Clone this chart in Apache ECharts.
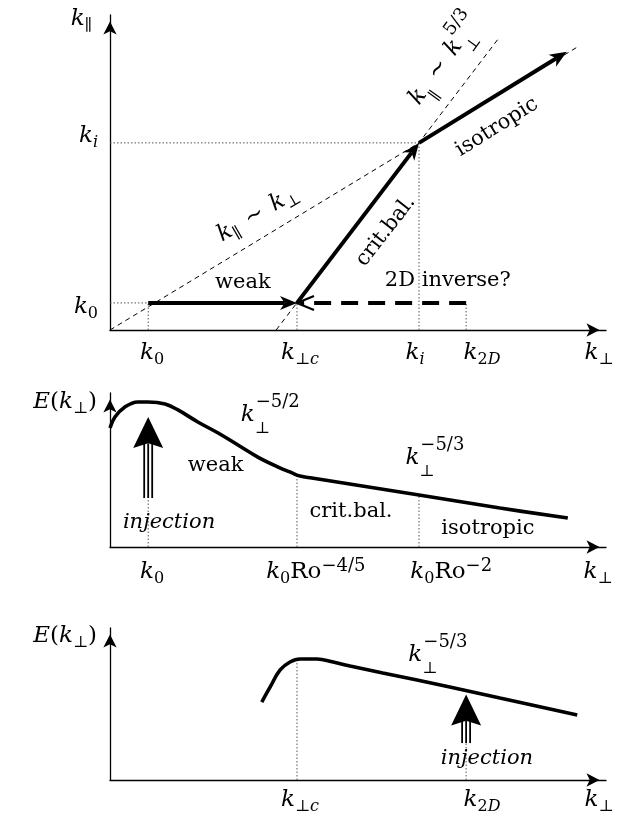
<!DOCTYPE html>
<html>
<head>
<meta charset="utf-8">
<script src="https://cdn.jsdelivr.net/npm/echarts@6/dist/echarts.min.js"></script>
<style>
  html, body { margin: 0; padding: 0; background: #fff; }
  #chart { width: 618px; height: 823px; }
</style>
</head>
<body>
<div id="chart"></div>
<script>
// 横轴统一为 0-100 的 (对数) k⊥ 单位，纵轴各面板 0-100
const perpTicks = [7.7, 37.7, 62.3, 71.8] // k0, k⊥c, ki, k2D
const parTicks = [8.6, 59.4]              // k0, ki (上图纵轴)
const [K0, KC, KI, K2D] = perpTicks
const [P0, PI] = parTicks

// 上图箭头: x1, y1, x2, y2, 是否虚线
const topArrows = [
  [K0, P0, KC, P0, 0],       // weak
  [KC, P0, KI, PI, 0],       // crit.bal.
  [KI, PI, 92.1, 88.3, 0],   // isotropic
  [K2D, P0, KC, P0, 1]       // 2D inverse?
]
const isoLine = [[0, 0], [94.4, 90.0]]       // k∥ ~ k⊥
const critLine = [[33.5, 0], [78.4, 92.7]]   // k∥ ~ k⊥^(5/3)
const topGuides = [
  [[K0, 0], [K0, P0]], [[0, P0], [K0, P0]], [[KC, 0], [KC, P0]],
  [[KI, 0], [KI, PI]], [[0, PI], [KI, PI]], [[K2D, 0], [K2D, P0]]
]

// 中图能谱
const midCurve = [
  [0, 77.3], [1.0, 84.4], [3.0, 90.9], [5.6, 94.2], [7.7, 94.2], [11.1, 92.9],
  [13.7, 89.0], [17.7, 81.2], [21.8, 74.0], [25.8, 66.2], [29.8, 58.4],
  [33.9, 51.9], [36.7, 48.1], [38.3, 46.1], [40.7, 44.8], [62.3, 33.8],
  [78.6, 25.3], [92.3, 18.8]
]
const midInjection = [[K0, 31.8, 84.4]] // x, 底, 顶
const midGuides = [[[K0, 0], [K0, 31.8]], [[KC, 0], [KC, 46.5]], [[KI, 0], [KI, 33.8]]]

// 下图能谱
const botCurve = [
  [30.6, 51.3], [32.3, 61.2], [34.3, 72.4], [36.3, 77.6], [38.3, 79.6], [41.7, 79.6],
  [45.0, 77.6], [48.4, 75.0], [55.0, 70.4], [61.9, 65.8], [68.5, 61.2],
  [78.6, 53.9], [94.2, 42.8]
]
const botInjection = [[K2D, 24.3, 56.3]]
const botGuides = [[[KC, 0], [KC, 79.6]], [[K2D, 0], [K2D, 24.3]]]

// 刻度标签
const topXLabelAt = [8.5, 38.3, 61.5, 75.0, 98.6]
const topXLabels = ['{k|k}{s|0}', '{k|k}{pp|⊥}{pc|c}', '{k|k}{si|i}', '{k|k}{s|2}{si|D}', '{k|k}{pp|⊥}']
const topYLabelAt = [7.3, 61.6, 98.7]
const topYLabels = ['{k|k}{s|0}', '{k|k}{si|i}', '{k|k}{pp|∥}{g6| }']
const midXLabelAt = [8.5, 41.5, 68.8, 98.4]
const midXLabels = ['{k|k}{s|0}', '{k|k}{s|0}{u|Ro}{p|−4/5}', '{k|k}{s|0}{u|Ro}{p|−2}', '{k|k}{pp|⊥}']
const midYLabelAt = [94.2]
const botXLabelAt = [38.3, 75.0, 98.6]
const botXLabels = ['{k|k}{pp|⊥}{pc|c}', '{k|k}{s|2}{si|D}', '{k|k}{pp|⊥}']
const botYLabelAt = [94.7]
const eLabel = '{k|E}{u|(}{k|k}{pp|⊥}{u|)}'

// 注释文字
const topNotes = [
  { text: '{t|weak}', at: [26.8, 15.2], rotate: 0 },
  { text: '{t|2D inverse?}', at: [68.1, 15.6], rotate: 0 },
  { text: '{t|crit.bal.}', at: [55.6, 31.4], rotate: 52 },
  { text: '{t|isotropic}', at: [78.0, 64.4], rotate: 32 },
  { text: '{k|k}{pp|∥}{g| }{u|∼}{g| }{k|k}{pp|⊥}', at: [29.8, 36.8], rotate: 30 },
  { text: '{K|k}{PS|∥}{g| }{U|∼}{g| }{K|k}{PZ|⊥}{P|5/3}', at: [67.5, 85.7], rotate: 54 }
]
const midNotes = [
  { text: '{t|weak}', at: [21.3, 53.2] },
  { text: '{K|k}{PZ|⊥}{P|−5/2}', at: [32.3, 85.7] },
  { text: '{ti|injection}', at: [11.9, 16.2] },
  { text: '{t|crit.bal.}', at: [48.6, 22.7] },
  { text: '{K|k}{PZ|⊥}{P|−5/3}', at: [65.5, 57.8] },
  { text: '{t|isotropic}', at: [76.2, 12.3] }
]
const botNotes = [
  { text: '{K|k}{PZ|⊥}{P|−5/3}', at: [66.1, 82.2] },
  { text: '{ti|injection}', at: [76.0, 13.8] }
]

const SERIF = "'DejaVu Serif', serif"
const base = { fontFamily: SERIF, color: '#000', align: 'left', textBorderWidth: 0, textBorderColor: 'transparent' }
const RICH = {
  k: { ...base, fontStyle: 'italic', fontSize: 23, lineHeight: 30 },
  u: { ...base, fontSize: 23, lineHeight: 30 },
  s: { ...base, fontSize: 16, lineHeight: 20, verticalAlign: 'bottom' },
  si: { ...base, fontStyle: 'italic', fontSize: 16, lineHeight: 20, verticalAlign: 'bottom' },
  pp: { ...base, fontSize: 16, lineHeight: 7, verticalAlign: 'bottom' },
  pc: { ...base, fontStyle: 'italic', fontSize: 16, lineHeight: 7, verticalAlign: 'bottom' },
  p: { ...base, fontSize: 18, lineHeight: 20, verticalAlign: 'top' },
  K: { ...base, fontStyle: 'italic', fontSize: 23, lineHeight: 44 },
  U: { ...base, fontSize: 23, lineHeight: 44 },
  PS: { ...base, fontSize: 16, lineHeight: 19, verticalAlign: 'bottom' },
  PZ: { ...base, fontSize: 16, lineHeight: 19, verticalAlign: 'bottom', width: 1 },
  P: { ...base, fontSize: 18, lineHeight: 14, verticalAlign: 'top' },
  t: { ...base, fontSize: 21, lineHeight: 26 },
  ti: { ...base, fontStyle: 'italic', fontSize: 21, lineHeight: 26 },
  g: { ...base, fontSize: 10, width: 10 },
  g6: { ...base, fontSize: 6, width: 6 }
}

const grids = [
  { left: 110, top: 15, width: 496, height: 315 },
  { left: 110, top: 393, width: 496, height: 154 },
  { left: 110, top: 628, width: 496, height: 152 }
].map(g => ({ ...g, containLabel: false, outerBoundsMode: 'none' }))

const axisLine = {
  show: true,
  onZero: false,
  symbol: ['none', 'arrow'],
  symbolSize: [10, 13],
  symbolOffset: [0, -6.5],
  lineStyle: { color: '#000', width: 1.3 }
}

const makeAxis = (gi, at, texts, margin) => ({
  gridIndex: gi,
  type: 'value',
  min: 0,
  max: 100,
  axisLine,
  axisTick: { show: false },
  splitLine: { show: false },
  axisLabel: {
    customValues: at,
    margin,
    color: '#000',
    rich: RICH,
    formatter: v => texts[at.indexOf(v)] || ''
  }
})

const lineSeries = (gi, data, style, extra) => ({
  type: 'line',
  xAxisIndex: gi,
  yAxisIndex: gi,
  data,
  showSymbol: false,
  silent: true,
  animation: false,
  lineStyle: { color: '#000', ...style },
  ...extra
})

const guideSeries = (gi, list) => list.map(seg => lineSeries(gi, seg, { width: 1, color: '#555', type: [1.5, 2] }, { z: 1 }))

const noteSeries = (gi, notes) => ({
  type: 'scatter',
  xAxisIndex: gi,
  yAxisIndex: gi,
  symbolSize: 0,
  silent: true,
  clip: false,
  z: 6,
  itemStyle: { opacity: 1, color: '#000' },
  data: notes.map(n => ({
    value: n.at,
    label: { formatter: n.text, rotate: n.rotate || 0 }
  })),
  label: { show: true, position: 'inside', rich: RICH, color: '#000', opacity: 1, textBorderWidth: 0, textBorderColor: 'transparent' }
})

// 粗箭头 (带箭头头部)
const arrowSeries = (gi, arrows) => ({
  type: 'custom',
  xAxisIndex: gi,
  yAxisIndex: gi,
  silent: true,
  clip: false,
  z: 5,
  data: arrows,
  renderItem: (params, api) => {
    const a = api.coord([api.value(0), api.value(1)])
    const b = api.coord([api.value(2), api.value(3)])
    const dashed = api.value(4) === 1
    const dx = b[0] - a[0], dy = b[1] - a[1]
    const len = Math.hypot(dx, dy)
    const ux = dx / len, uy = dy / len, nx = -uy, ny = ux
    const L = 17, W = 7
    const back = [b[0] - ux * L, b[1] - uy * L]
    const notch = [b[0] - ux * L * 0.72, b[1] - uy * L * 0.72]
    const left = [back[0] + nx * W, back[1] + ny * W]
    const right = [back[0] - nx * W, back[1] - ny * W]
    const end = dashed ? [b[0] - ux * 3, b[1] - uy * 3] : notch
    const shaft = {
      type: 'line',
      shape: { x1: a[0], y1: a[1], x2: end[0], y2: end[1] },
      style: { stroke: '#000', lineWidth: 4, lineDash: dashed ? [17, 10] : null }
    }
    const head = dashed
      ? { type: 'polyline', shape: { points: [left, b, right] }, style: { stroke: '#000', fill: null, lineWidth: 2.2 } }
      : { type: 'polygon', shape: { points: [b, left, notch, right] }, style: { fill: '#000' } }
    return { type: 'group', children: [shaft, head] }
  }
})

// 注入箭头 (三线竖箭头)
const injectionSeries = (gi, arrows) => ({
  type: 'custom',
  xAxisIndex: gi,
  yAxisIndex: gi,
  silent: true,
  clip: false,
  z: 5,
  data: arrows,
  renderItem: (params, api) => {
    const foot = api.coord([api.value(0), api.value(1)])
    const tip = api.coord([api.value(0), api.value(2)])
    const x = tip[0], H = 31, W = 15
    const neck = tip[1] + H * 0.85
    const shafts = [-4, 0, 4].map(d => ({
      type: 'line',
      shape: { x1: x + d, y1: foot[1], x2: x + d, y2: neck },
      style: { stroke: '#000', lineWidth: 1.8 }
    }))
    const head = {
      type: 'polygon',
      shape: { points: [[x, tip[1]], [x + W, tip[1] + H], [x, neck], [x - W, tip[1] + H]] },
      style: { fill: '#000' }
    }
    return { type: 'group', children: shafts.concat([head]) }
  }
})

const chart = echarts.init(document.getElementById('chart'))

const curveStyle = { width: 3.6 }
const thinDash = { width: 1, type: [5, 4] }

chart.setOption({
  backgroundColor: '#fff',
  animation: false,
  grid: grids,
  xAxis: [
    makeAxis(0, topXLabelAt, topXLabels, 8),
    makeAxis(1, midXLabelAt, midXLabels, 10),
    makeAxis(2, botXLabelAt, botXLabels, 5)
  ],
  yAxis: [
    makeAxis(0, topYLabelAt, topYLabels, 12),
    makeAxis(1, midYLabelAt, [eLabel], 13),
    makeAxis(2, botYLabelAt, [eLabel], 13)
  ],
  series: [
    ...guideSeries(0, topGuides),
    lineSeries(0, isoLine, thinDash, { z: 2 }),
    lineSeries(0, critLine, thinDash, { z: 2 }),
    arrowSeries(0, topArrows),
    noteSeries(0, topNotes),

    ...guideSeries(1, midGuides),
    lineSeries(1, midCurve, curveStyle, { smooth: 0.4, z: 3 }),
    injectionSeries(1, midInjection),
    noteSeries(1, midNotes),

    ...guideSeries(2, botGuides),
    lineSeries(2, botCurve, curveStyle, { smooth: 0.4, z: 3 }),
    injectionSeries(2, botInjection),
    noteSeries(2, botNotes)
  ]
})

window.addEventListener('resize', () => chart.resize())
</script>
</body>
</html>
